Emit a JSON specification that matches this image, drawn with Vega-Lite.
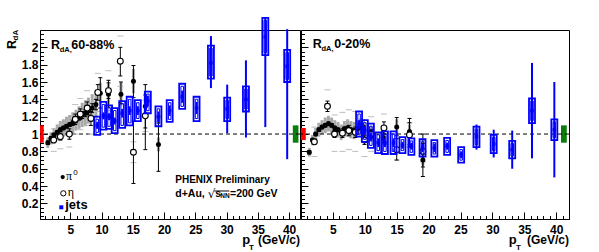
{
"$schema": "https://vega.github.io/schema/vega-lite/v6.json",
"background": "white",
"padding": {"left": 5, "top": 16, "right": 0, "bottom": 0},
"autosize": {"type": "pad"},
"spacing": 1,
"bounds": "flush",
"resolve": {"scale": {"x": "independent", "y": "independent", "color": "independent"}},
"config": {
  "view": {"stroke": "black", "strokeWidth": 1},
  "scale": {"continuousPadding": 0},
  "axis": {"domainColor": "black", "tickColor": "black", "labelColor": "black", "grid": false, "labelFont": "Liberation Sans", "labelFontWeight": "bold", "labelFontSize": 12, "domainWidth": 1, "tickWidth": 1}
},
"datasets": {
  "normL": [{"x0": 0.15, "x1": 0.75, "lo": 0.9, "hi": 1.1, "src": "pi0"}, {"x0": 40.6, "x1": 41.5, "lo": 0.9, "hi": 1.1, "src": "jets"}],
  "normR": [{"x0": 0, "x1": 0.75, "lo": 0.93, "hi": 1.07, "src": "pi0"}, {"x0": 40.75, "x1": 41.65, "lo": 0.9, "hi": 1.1, "src": "jets"}],
  "pi0L": [
    {"pT": 1.4, "v": 0.90, "elo": 0.88, "ehi": 0.92, "slo": 0.84, "shi": 0.96},
    {"pT": 1.9, "v": 0.95, "elo": 0.93, "ehi": 0.97, "slo": 0.88, "shi": 1.02},
    {"pT": 2.4, "v": 0.99, "elo": 0.97, "ehi": 1.01, "slo": 0.91, "shi": 1.07},
    {"pT": 2.9, "v": 1.02, "elo": 1.00, "ehi": 1.04, "slo": 0.93, "shi": 1.11},
    {"pT": 3.4, "v": 1.05, "elo": 1.03, "ehi": 1.07, "slo": 0.95, "shi": 1.15},
    {"pT": 3.9, "v": 1.07, "elo": 1.05, "ehi": 1.09, "slo": 0.97, "shi": 1.17},
    {"pT": 4.4, "v": 1.09, "elo": 1.07, "ehi": 1.11, "slo": 0.98, "shi": 1.20},
    {"pT": 4.9, "v": 1.11, "elo": 1.09, "ehi": 1.13, "slo": 1.00, "shi": 1.22},
    {"pT": 5.4, "v": 1.13, "elo": 1.10, "ehi": 1.16, "slo": 1.01, "shi": 1.25},
    {"pT": 5.9, "v": 1.16, "elo": 1.13, "ehi": 1.19, "slo": 1.04, "shi": 1.28},
    {"pT": 6.4, "v": 1.19, "elo": 1.16, "ehi": 1.22, "slo": 1.06, "shi": 1.32},
    {"pT": 6.9, "v": 1.22, "elo": 1.18, "ehi": 1.26, "slo": 1.08, "shi": 1.36},
    {"pT": 7.4, "v": 1.24, "elo": 1.20, "ehi": 1.28, "slo": 1.09, "shi": 1.39},
    {"pT": 7.9, "v": 1.27, "elo": 1.22, "ehi": 1.32, "slo": 1.12, "shi": 1.42},
    {"pT": 8.5, "v": 1.30, "elo": 1.25, "ehi": 1.35, "slo": 1.14, "shi": 1.46},
    {"pT": 9.1, "v": 1.34, "elo": 1.28, "ehi": 1.40, "slo": 1.18, "shi": 1.50},
    {"pT": 9.8, "v": 1.47, "elo": 1.30, "ehi": 1.65, "slo": 1.35, "shi": 1.59},
    {"pT": 11.1, "v": 1.46, "elo": 1.31, "ehi": 1.62, "slo": 1.34, "shi": 1.58},
    {"pT": 13.1, "v": 1.46, "elo": 1.35, "ehi": 1.60, "slo": 1.33, "shi": 1.59},
    {"pT": 15.1, "v": 1.61, "elo": 1.42, "ehi": 1.79, "slo": 1.47, "shi": 1.75},
    {"pT": 17.0, "v": 1.32, "elo": 1.07, "ehi": 1.57, "slo": 1.20, "shi": 1.44},
    {"pT": 19.1, "v": 0.88, "elo": 0.57, "ehi": 1.20, "slo": 0.80, "shi": 0.96}
  ],
  "etaL": [
    {"pT": 2.35, "v": 0.93, "elo": 0.90, "ehi": 0.96, "slo": 0.80, "shi": 1.06},
    {"pT": 3.4, "v": 0.97, "elo": 0.93, "ehi": 1.01, "slo": 0.83, "shi": 1.11},
    {"pT": 4.85, "v": 1.00, "elo": 0.94, "ehi": 1.06, "slo": 0.85, "shi": 1.15},
    {"pT": 5.8, "v": 1.17, "elo": 1.11, "ehi": 1.23, "slo": 1.00, "shi": 1.34},
    {"pT": 6.6, "v": 1.23, "elo": 1.17, "ehi": 1.29, "slo": 1.05, "shi": 1.41},
    {"pT": 7.7, "v": 1.30, "elo": 1.23, "ehi": 1.37, "slo": 1.10, "shi": 1.50},
    {"pT": 8.3, "v": 1.18, "elo": 1.10, "ehi": 1.26, "slo": 1.00, "shi": 1.36},
    {"pT": 9.4, "v": 1.48, "elo": 1.39, "ehi": 1.57, "slo": 1.26, "shi": 1.70},
    {"pT": 11.1, "v": 1.50, "elo": 1.41, "ehi": 1.59, "slo": 1.27, "shi": 1.73},
    {"pT": 13.0, "v": 1.84, "elo": 1.67, "ehi": 2.00, "slo": 1.55, "shi": 2.13},
    {"pT": 15.1, "v": 0.79, "elo": 0.43, "ehi": 1.15, "slo": 0.67, "shi": 0.91},
    {"pT": 17.0, "v": 1.21, "elo": 0.82, "ehi": 1.45, "slo": 1.03, "shi": 1.39}
  ],
  "jetsL": [
    {"pT": 9.3, "v": 1.10, "slo": 0.99, "shi": 1.20, "elo": 1.06, "ehi": 1.14},
    {"pT": 10.3, "v": 1.21, "slo": 1.05, "shi": 1.37, "elo": 1.17, "ehi": 1.25},
    {"pT": 11.2, "v": 1.20, "slo": 1.06, "shi": 1.33, "elo": 1.16, "ehi": 1.24},
    {"pT": 12.1, "v": 1.15, "slo": 1.01, "shi": 1.30, "elo": 1.11, "ehi": 1.19},
    {"pT": 13.3, "v": 1.24, "slo": 1.07, "shi": 1.38, "elo": 1.19, "ehi": 1.29},
    {"pT": 14.5, "v": 1.27, "slo": 1.10, "shi": 1.43, "elo": 1.22, "ehi": 1.32},
    {"pT": 15.8, "v": 1.27, "slo": 1.15, "shi": 1.39, "elo": 1.22, "ehi": 1.32},
    {"pT": 17.4, "v": 1.38, "slo": 1.24, "shi": 1.49, "elo": 1.32, "ehi": 1.44},
    {"pT": 19.1, "v": 1.20, "slo": 1.09, "shi": 1.32, "elo": 1.14, "ehi": 1.26},
    {"pT": 20.9, "v": 1.27, "slo": 1.14, "shi": 1.39, "elo": 1.21, "ehi": 1.33},
    {"pT": 22.9, "v": 1.43, "slo": 1.29, "shi": 1.58, "elo": 1.36, "ehi": 1.50},
    {"pT": 25.2, "v": 1.30, "slo": 1.15, "shi": 1.43, "elo": 1.23, "ehi": 1.37},
    {"pT": 27.5, "v": 1.82, "slo": 1.64, "shi": 2.02, "elo": 1.53, "ehi": 2.13},
    {"pT": 30.1, "v": 1.29, "slo": 1.15, "shi": 1.42, "elo": 1.01, "ehi": 1.57},
    {"pT": 33.1, "v": 1.40, "slo": 1.26, "shi": 1.55, "elo": 0.96, "ehi": 1.85},
    {"pT": 36.2, "v": 2.12, "slo": 1.91, "shi": 2.34, "elo": 1.08, "ehi": 2.34},
    {"pT": 39.7, "v": 1.78, "slo": 1.60, "shi": 1.97, "elo": 0.71, "ehi": 2.21}
  ],
  "pi0R": [
    {"pT": 1.3, "v": 0.79, "elo": 0.77, "ehi": 0.81, "slo": 0.74, "shi": 0.84},
    {"pT": 1.8, "v": 0.93, "elo": 0.91, "ehi": 0.95, "slo": 0.87, "shi": 0.99},
    {"pT": 2.3, "v": 1.00, "elo": 0.98, "ehi": 1.02, "slo": 0.93, "shi": 1.07},
    {"pT": 2.8, "v": 1.05, "elo": 1.03, "ehi": 1.07, "slo": 0.97, "shi": 1.13},
    {"pT": 3.3, "v": 1.08, "elo": 1.06, "ehi": 1.10, "slo": 1.00, "shi": 1.16},
    {"pT": 3.8, "v": 1.10, "elo": 1.08, "ehi": 1.12, "slo": 1.01, "shi": 1.19},
    {"pT": 4.3, "v": 1.12, "elo": 1.10, "ehi": 1.14, "slo": 1.03, "shi": 1.21},
    {"pT": 4.8, "v": 1.10, "elo": 1.08, "ehi": 1.12, "slo": 1.01, "shi": 1.19},
    {"pT": 5.3, "v": 1.07, "elo": 1.05, "ehi": 1.09, "slo": 0.98, "shi": 1.16},
    {"pT": 5.8, "v": 1.05, "elo": 1.03, "ehi": 1.07, "slo": 0.96, "shi": 1.14},
    {"pT": 6.3, "v": 1.02, "elo": 1.00, "ehi": 1.04, "slo": 0.93, "shi": 1.11},
    {"pT": 6.8, "v": 1.06, "elo": 1.04, "ehi": 1.08, "slo": 0.97, "shi": 1.15},
    {"pT": 7.3, "v": 1.07, "elo": 1.05, "ehi": 1.09, "slo": 0.97, "shi": 1.17},
    {"pT": 7.8, "v": 1.05, "elo": 1.03, "ehi": 1.07, "slo": 0.95, "shi": 1.15},
    {"pT": 8.3, "v": 1.04, "elo": 1.02, "ehi": 1.06, "slo": 0.94, "shi": 1.14},
    {"pT": 8.8, "v": 1.06, "elo": 1.04, "ehi": 1.08, "slo": 0.96, "shi": 1.16},
    {"pT": 9.3, "v": 1.08, "elo": 1.05, "ehi": 1.11, "slo": 0.98, "shi": 1.18},
    {"pT": 9.8, "v": 1.07, "elo": 1.04, "ehi": 1.10, "slo": 0.97, "shi": 1.17},
    {"pT": 11.0, "v": 1.00, "elo": 0.96, "ehi": 1.04, "slo": 0.91, "shi": 1.09},
    {"pT": 12.9, "v": 0.96, "elo": 0.90, "ehi": 1.03, "slo": 0.88, "shi": 1.04},
    {"pT": 15.0, "v": 1.08, "elo": 0.98, "ehi": 1.19, "slo": 0.99, "shi": 1.17},
    {"pT": 17.0, "v": 1.03, "elo": 0.88, "ehi": 1.18, "slo": 0.95, "shi": 1.11},
    {"pT": 19.1, "v": 0.70, "elo": 0.51, "ehi": 0.89, "slo": 0.64, "shi": 0.76}
  ],
  "etaR": [
    {"pT": 2.1, "v": 0.91, "elo": 0.88, "ehi": 0.94, "slo": 0.74, "shi": 1.08},
    {"pT": 4.15, "v": 1.32, "elo": 1.26, "ehi": 1.38, "slo": 1.14, "shi": 1.51},
    {"pT": 5.25, "v": 1.00, "elo": 0.96, "ehi": 1.04, "slo": 0.80, "shi": 1.22},
    {"pT": 6.5, "v": 1.01, "elo": 0.96, "ehi": 1.06, "slo": 0.80, "shi": 1.25},
    {"pT": 7.5, "v": 1.04, "elo": 0.98, "ehi": 1.10, "slo": 0.82, "shi": 1.28},
    {"pT": 8.5, "v": 1.02, "elo": 0.96, "ehi": 1.08, "slo": 0.80, "shi": 1.26},
    {"pT": 9.95, "v": 0.93, "elo": 0.88, "ehi": 0.98, "slo": 0.74, "shi": 1.12},
    {"pT": 11.0, "v": 1.00, "elo": 0.95, "ehi": 1.05, "slo": 0.80, "shi": 1.20},
    {"pT": 13.0, "v": 1.07, "elo": 1.00, "ehi": 1.14, "slo": 0.88, "shi": 1.23},
    {"pT": 15.0, "v": 0.82, "elo": 0.70, "ehi": 0.95, "slo": 0.70, "shi": 0.94},
    {"pT": 17.0, "v": 0.99, "elo": 0.85, "ehi": 1.13, "slo": 0.85, "shi": 1.13},
    {"pT": 19.1, "v": 0.80, "elo": 0.62, "ehi": 1.00, "slo": 0.68, "shi": 0.92}
  ],
  "jetsR": [
    {"pT": 9.1, "v": 1.11, "slo": 0.97, "shi": 1.26, "elo": 1.06, "ehi": 1.16},
    {"pT": 10.0, "v": 1.04, "slo": 0.91, "shi": 1.16, "elo": 0.99, "ehi": 1.09},
    {"pT": 10.95, "v": 0.97, "slo": 0.84, "shi": 1.12, "elo": 0.92, "ehi": 1.02},
    {"pT": 12.1, "v": 0.90, "slo": 0.78, "shi": 1.02, "elo": 0.85, "ehi": 0.95},
    {"pT": 13.15, "v": 0.90, "slo": 0.77, "shi": 1.03, "elo": 0.85, "ehi": 0.95},
    {"pT": 14.5, "v": 0.90, "slo": 0.77, "shi": 1.03, "elo": 0.85, "ehi": 0.95},
    {"pT": 15.9, "v": 0.87, "slo": 0.78, "shi": 0.965, "elo": 0.83, "ehi": 0.91},
    {"pT": 17.3, "v": 0.86, "slo": 0.76, "shi": 0.95, "elo": 0.82, "ehi": 0.90},
    {"pT": 19.05, "v": 0.84, "slo": 0.74, "shi": 0.94, "elo": 0.79, "ehi": 0.89},
    {"pT": 20.9, "v": 0.84, "slo": 0.74, "shi": 0.93, "elo": 0.79, "ehi": 0.89},
    {"pT": 22.9, "v": 0.86, "slo": 0.76, "shi": 0.955, "elo": 0.82, "ehi": 0.90},
    {"pT": 25.1, "v": 0.76, "slo": 0.67, "shi": 0.85, "elo": 0.72, "ehi": 0.80},
    {"pT": 27.5, "v": 0.97, "slo": 0.85, "shi": 1.085, "elo": 0.82, "ehi": 1.11},
    {"pT": 30.2, "v": 0.885, "slo": 0.78, "shi": 0.99, "elo": 0.73, "ehi": 1.05},
    {"pT": 33.1, "v": 0.82, "slo": 0.72, "shi": 0.92, "elo": 0.60, "ehi": 1.04},
    {"pT": 36.2, "v": 1.27, "slo": 1.125, "shi": 1.41, "elo": 0.72, "ehi": 1.82},
    {"pT": 39.7, "v": 1.05, "slo": 0.93, "shi": 1.17, "elo": 0.50, "ehi": 1.60}
  ]
},
"hconcat": [
{
  "width": 260, "height": 189,
  "resolve": {"axis": {"x": "independent", "y": "independent"}},
  "layer": [
    {"data": {"name": "normL"}, "mark": {"type": "rect"},
     "encoding": {
       "x": {"field": "x0", "type": "quantitative", "scale": {"domain": [0.15, 41.75], "nice": false, "zero": false, "padding": 0},
             "axis": {"orient": "bottom", "values": [5, 10, 15, 20, 25, 30, 35, 40], "tickSize": -7, "labelPadding": 12, "labelFlush": false, "labelOverlap": false, "title": null}},
       "x2": {"field": "x1"},
       "y": {"field": "lo", "type": "quantitative", "scale": {"domain": [0.02, 2.2], "nice": false, "zero": false, "padding": 0},
             "axis": {"orient": "left", "values": [0.2, 0.4, 0.6, 0.8, 1, 1.2, 1.4, 1.6, 1.8, 2], "format": "~g", "labelExpr": "(datum.value == 1 || datum.value == 2) ? datum.label : datum.label + '\u2007'", "tickSize": -7, "labelPadding": 9, "labelFlush": false, "labelOverlap": false, "title": null}},
       "y2": {"field": "hi"},
       "color": {"field": "src", "type": "nominal", "scale": {"domain": ["pi0", "jets"], "range": ["#ff0000", "#0b7d0b"]}, "legend": null}
     }},
    {"data": {"name": "pi0L"}, "mark": {"type": "bar", "width": 3, "color": "#a9a9a9"},
     "encoding": {
       "x": {"field": "pT", "type": "quantitative", "scale": {"domain": [0.15, 41.75], "nice": false, "zero": false, "padding": 0},
             "axis": {"orient": "bottom", "values": [1,2,3,4,5,6,7,8,9,10,11,12,13,14,15,16,17,18,19,20,21,22,23,24,25,26,27,28,29,30,31,32,33,34,35,36,37,38,39,40,41], "tickSize": -3.5, "labels": false, "domain": false, "title": null}},
       "y": {"field": "slo", "type": "quantitative", "scale": {"domain": [0.02, 2.2], "nice": false, "zero": false, "padding": 0},
             "axis": {"orient": "left", "values": [0.05,0.1,0.15,0.2,0.25,0.3,0.35,0.4,0.45,0.5,0.55,0.6,0.65,0.7,0.75,0.8,0.85,0.9,0.95,1,1.05,1.1,1.15,1.2,1.25,1.3,1.35,1.4,1.45,1.5,1.55,1.6,1.65,1.7,1.75,1.8,1.85,1.9,1.95,2,2.05,2.1,2.15], "tickSize": -3.5, "labels": false, "domain": false, "title": null}},
       "y2": {"field": "shi"}
     }},
    {"data": {"values": [{}]}, "mark": {"type": "rule", "strokeDash": [4, 3], "color": "black", "strokeWidth": 1},
     "encoding": {"y": {"datum": 1, "type": "quantitative", "scale": {"domain": [0.02, 2.2], "nice": false, "zero": false, "padding": 0}, "axis": null}}},
    {"data": {"name": "etaL"}, "mark": {"type": "tick", "orient": "horizontal", "size": 6, "thickness": 1, "color": "#bdbdbd", "opacity": 1},
     "encoding": {"x": {"field": "pT", "type": "quantitative", "scale": {"domain": [0.15, 41.75], "nice": false, "zero": false, "padding": 0}, "axis": null},
                  "y": {"field": "slo", "type": "quantitative", "scale": {"domain": [0.02, 2.2], "nice": false, "zero": false, "padding": 0}, "axis": null}}},
    {"data": {"name": "etaL"}, "mark": {"type": "tick", "orient": "horizontal", "size": 6, "thickness": 1, "color": "#bdbdbd", "opacity": 1},
     "encoding": {"x": {"field": "pT", "type": "quantitative", "scale": {"domain": [0.15, 41.75], "nice": false, "zero": false, "padding": 0}, "axis": null},
                  "y": {"field": "shi", "type": "quantitative", "scale": {"domain": [0.02, 2.2], "nice": false, "zero": false, "padding": 0}, "axis": null}}},
    {"data": {"name": "pi0L"}, "mark": {"type": "rule", "color": "black", "strokeWidth": 1},
     "encoding": {"x": {"field": "pT", "type": "quantitative", "scale": {"domain": [0.15, 41.75], "nice": false, "zero": false, "padding": 0}, "axis": null},
                  "y": {"field": "elo", "type": "quantitative", "scale": {"domain": [0.02, 2.2], "nice": false, "zero": false, "padding": 0}, "axis": null},
                  "y2": {"field": "ehi"}}},
    {"data": {"name": "etaL"}, "mark": {"type": "rule", "color": "black", "strokeWidth": 1},
     "encoding": {"x": {"field": "pT", "type": "quantitative", "scale": {"domain": [0.15, 41.75], "nice": false, "zero": false, "padding": 0}, "axis": null},
                  "y": {"field": "elo", "type": "quantitative", "scale": {"domain": [0.02, 2.2], "nice": false, "zero": false, "padding": 0}, "axis": null},
                  "y2": {"field": "ehi"}}},
    {"data": {"name": "pi0L"}, "mark": {"type": "tick", "orient": "horizontal", "size": 4, "thickness": 1, "color": "black", "opacity": 1},
     "encoding": {"x": {"field": "pT", "type": "quantitative", "scale": {"domain": [0.15, 41.75], "nice": false, "zero": false, "padding": 0}, "axis": null},
                  "y": {"field": "elo", "type": "quantitative", "scale": {"domain": [0.02, 2.2], "nice": false, "zero": false, "padding": 0}, "axis": null}}},
    {"data": {"name": "pi0L"}, "mark": {"type": "tick", "orient": "horizontal", "size": 4, "thickness": 1, "color": "black", "opacity": 1},
     "encoding": {"x": {"field": "pT", "type": "quantitative", "scale": {"domain": [0.15, 41.75], "nice": false, "zero": false, "padding": 0}, "axis": null},
                  "y": {"field": "ehi", "type": "quantitative", "scale": {"domain": [0.02, 2.2], "nice": false, "zero": false, "padding": 0}, "axis": null}}},
    {"data": {"name": "etaL"}, "mark": {"type": "tick", "orient": "horizontal", "size": 4, "thickness": 1, "color": "black", "opacity": 1},
     "encoding": {"x": {"field": "pT", "type": "quantitative", "scale": {"domain": [0.15, 41.75], "nice": false, "zero": false, "padding": 0}, "axis": null},
                  "y": {"field": "elo", "type": "quantitative", "scale": {"domain": [0.02, 2.2], "nice": false, "zero": false, "padding": 0}, "axis": null}}},
    {"data": {"name": "etaL"}, "mark": {"type": "tick", "orient": "horizontal", "size": 4, "thickness": 1, "color": "black", "opacity": 1},
     "encoding": {"x": {"field": "pT", "type": "quantitative", "scale": {"domain": [0.15, 41.75], "nice": false, "zero": false, "padding": 0}, "axis": null},
                  "y": {"field": "ehi", "type": "quantitative", "scale": {"domain": [0.02, 2.2], "nice": false, "zero": false, "padding": 0}, "axis": null}}},
    {"data": {"name": "pi0L"}, "mark": {"type": "point", "shape": "circle", "filled": true, "color": "black", "size": 25, "opacity": 1},
     "encoding": {"x": {"field": "pT", "type": "quantitative", "scale": {"domain": [0.15, 41.75], "nice": false, "zero": false, "padding": 0}, "axis": null},
                  "y": {"field": "v", "type": "quantitative", "scale": {"domain": [0.02, 2.2], "nice": false, "zero": false, "padding": 0}, "axis": null}}},
    {"data": {"name": "etaL"}, "mark": {"type": "point", "shape": "circle", "filled": true, "fill": "white", "stroke": "black", "strokeWidth": 1.1, "size": 34, "opacity": 1},
     "encoding": {"x": {"field": "pT", "type": "quantitative", "scale": {"domain": [0.15, 41.75], "nice": false, "zero": false, "padding": 0}, "axis": null},
                  "y": {"field": "v", "type": "quantitative", "scale": {"domain": [0.02, 2.2], "nice": false, "zero": false, "padding": 0}, "axis": null}}},
    {"data": {"name": "jetsL"}, "mark": {"type": "bar", "width": 6, "fill": "white", "fillOpacity": 0, "stroke": "#0000ff", "strokeWidth": 1.8},
     "encoding": {"x": {"field": "pT", "type": "quantitative", "scale": {"domain": [0.15, 41.75], "nice": false, "zero": false, "padding": 0}, "axis": null},
                  "y": {"field": "slo", "type": "quantitative", "scale": {"domain": [0.02, 2.2], "nice": false, "zero": false, "padding": 0}, "axis": null},
                  "y2": {"field": "shi"}}},
    {"data": {"name": "jetsL"}, "mark": {"type": "bar", "width": 2.5, "fill": "white", "fillOpacity": 0, "stroke": "#0000ff", "strokeWidth": 1, "yOffset": -2.5, "y2Offset": 2.5},
     "encoding": {"x": {"field": "pT", "type": "quantitative", "scale": {"domain": [0.15, 41.75], "nice": false, "zero": false, "padding": 0}, "axis": null},
                  "y": {"field": "slo", "type": "quantitative", "scale": {"domain": [0.02, 2.2], "nice": false, "zero": false, "padding": 0}, "axis": null},
                  "y2": {"field": "shi"}}},
    {"data": {"name": "jetsL"}, "mark": {"type": "rule", "color": "#0000ff", "strokeWidth": 2},
     "encoding": {"x": {"field": "pT", "type": "quantitative", "scale": {"domain": [0.15, 41.75], "nice": false, "zero": false, "padding": 0}, "axis": null},
                  "y": {"field": "elo", "type": "quantitative", "scale": {"domain": [0.02, 2.2], "nice": false, "zero": false, "padding": 0}, "axis": null},
                  "y2": {"field": "ehi"}}},
    {"data": {"name": "jetsL"}, "mark": {"type": "point", "shape": "square", "filled": true, "color": "#0000ff", "size": 12, "opacity": 1},
     "encoding": {"x": {"field": "pT", "type": "quantitative", "scale": {"domain": [0.15, 41.75], "nice": false, "zero": false, "padding": 0}, "axis": null},
                  "y": {"field": "v", "type": "quantitative", "scale": {"domain": [0.02, 2.2], "nice": false, "zero": false, "padding": 0}, "axis": null}}},
    {"data": {"values": [{}]}, "mark": {"type": "text", "text": "R", "font": "Liberation Sans", "fontWeight": "bold", "fontSize": 12.5, "align": "left", "baseline": "alphabetic", "color": "black"},
     "encoding": {"x": {"datum": 1.91, "type": "quantitative", "scale": {"domain": [0.15, 41.75], "nice": false, "zero": false, "padding": 0}, "axis": null},
                  "y": {"datum": 1.981, "type": "quantitative", "scale": {"domain": [0.02, 2.2], "nice": false, "zero": false, "padding": 0}, "axis": null}}},
    {"data": {"values": [{}]}, "mark": {"type": "text", "text": "dA,", "font": "Liberation Sans", "fontWeight": "bold", "fontSize": 7.5, "align": "left", "baseline": "alphabetic", "color": "black"},
     "encoding": {"x": {"datum": 3.3, "type": "quantitative", "scale": {"domain": [0.15, 41.75], "nice": false, "zero": false, "padding": 0}, "axis": null},
                  "y": {"datum": 1.946, "type": "quantitative", "scale": {"domain": [0.02, 2.2], "nice": false, "zero": false, "padding": 0}, "axis": null}}},
    {"data": {"values": [{}]}, "mark": {"type": "text", "text": "60-88%", "font": "Liberation Sans", "fontWeight": "bold", "fontSize": 12.5, "align": "left", "baseline": "alphabetic", "color": "black"},
     "encoding": {"x": {"datum": 5.15, "type": "quantitative", "scale": {"domain": [0.15, 41.75], "nice": false, "zero": false, "padding": 0}, "axis": null},
                  "y": {"datum": 1.981, "type": "quantitative", "scale": {"domain": [0.02, 2.2], "nice": false, "zero": false, "padding": 0}, "axis": null}}},
    {"data": {"values": [{}]}, "mark": {"type": "text", "text": "R", "font": "Liberation Sans", "fontWeight": "bold", "fontSize": 12.5, "align": "left", "baseline": "alphabetic", "angle": 270, "color": "black"},
     "encoding": {"x": {"datum": -3.69, "type": "quantitative", "scale": {"domain": [0.15, 41.75], "nice": false, "zero": false, "padding": 0}, "axis": null},
                  "y": {"datum": 1.981, "type": "quantitative", "scale": {"domain": [0.02, 2.2], "nice": false, "zero": false, "padding": 0}, "axis": null}}},
    {"data": {"values": [{}]}, "mark": {"type": "text", "text": "dA", "font": "Liberation Sans", "fontWeight": "bold", "fontSize": 8, "align": "left", "baseline": "alphabetic", "angle": 270, "color": "black"},
     "encoding": {"x": {"datum": -3.37, "type": "quantitative", "scale": {"domain": [0.15, 41.75], "nice": false, "zero": false, "padding": 0}, "axis": null},
                  "y": {"datum": 2.079, "type": "quantitative", "scale": {"domain": [0.02, 2.2], "nice": false, "zero": false, "padding": 0}, "axis": null}}},
    {"data": {"values": [{}]}, "mark": {"type": "text", "text": "p", "font": "Liberation Sans", "fontWeight": "bold", "fontSize": 13, "align": "left", "baseline": "alphabetic", "color": "black"},
     "encoding": {"x": {"datum": 32.5, "type": "quantitative", "scale": {"domain": [0.15, 41.75], "nice": false, "zero": false, "padding": 0}, "axis": null},
                  "y": {"datum": -0.268, "type": "quantitative", "scale": {"domain": [0.02, 2.2], "nice": false, "zero": false, "padding": 0}, "axis": null}}},
    {"data": {"values": [{}]}, "mark": {"type": "text", "text": "T", "font": "Liberation Sans", "fontWeight": "bold", "fontSize": 8, "align": "left", "baseline": "alphabetic", "color": "black"},
     "encoding": {"x": {"datum": 33.6, "type": "quantitative", "scale": {"domain": [0.15, 41.75], "nice": false, "zero": false, "padding": 0}, "axis": null},
                  "y": {"datum": -0.332, "type": "quantitative", "scale": {"domain": [0.02, 2.2], "nice": false, "zero": false, "padding": 0}, "axis": null}}},
    {"data": {"values": [{}]}, "mark": {"type": "text", "text": "(GeV/c)", "font": "Liberation Sans", "fontWeight": "bold", "fontSize": 12, "align": "right", "baseline": "alphabetic", "color": "black"},
     "encoding": {"x": {"datum": 41.75, "type": "quantitative", "scale": {"domain": [0.15, 41.75], "nice": false, "zero": false, "padding": 0}, "axis": null},
                  "y": {"datum": -0.268, "type": "quantitative", "scale": {"domain": [0.02, 2.2], "nice": false, "zero": false, "padding": 0}, "axis": null}}},
    {"data": {"values": [{}]}, "mark": {"type": "point", "shape": "circle", "filled": true, "color": "black", "size": 18, "opacity": 1},
     "encoding": {"x": {"datum": 3.78, "type": "quantitative", "scale": {"domain": [0.15, 41.75], "nice": false, "zero": false, "padding": 0}, "axis": null},
                  "y": {"datum": 0.504, "type": "quantitative", "scale": {"domain": [0.02, 2.2], "nice": false, "zero": false, "padding": 0}, "axis": null}}},
    {"data": {"values": [{}]}, "mark": {"type": "text", "text": "π", "font": "Liberation Serif", "fontSize": 12, "align": "left", "baseline": "alphabetic", "color": "black"},
     "encoding": {"x": {"datum": 4.31, "type": "quantitative", "scale": {"domain": [0.15, 41.75], "nice": false, "zero": false, "padding": 0}, "axis": null},
                  "y": {"datum": 0.466, "type": "quantitative", "scale": {"domain": [0.02, 2.2], "nice": false, "zero": false, "padding": 0}, "axis": null}}},
    {"data": {"values": [{}]}, "mark": {"type": "text", "text": "0", "font": "Liberation Sans", "fontSize": 8, "align": "left", "baseline": "alphabetic", "color": "black"},
     "encoding": {"x": {"datum": 5.48, "type": "quantitative", "scale": {"domain": [0.15, 41.75], "nice": false, "zero": false, "padding": 0}, "axis": null},
                  "y": {"datum": 0.522, "type": "quantitative", "scale": {"domain": [0.02, 2.2], "nice": false, "zero": false, "padding": 0}, "axis": null}}},
    {"data": {"values": [{}]}, "mark": {"type": "point", "shape": "circle", "filled": true, "fill": "white", "stroke": "black", "strokeWidth": 1, "size": 28, "opacity": 1},
     "encoding": {"x": {"datum": 3.88, "type": "quantitative", "scale": {"domain": [0.15, 41.75], "nice": false, "zero": false, "padding": 0}, "axis": null},
                  "y": {"datum": 0.316, "type": "quantitative", "scale": {"domain": [0.02, 2.2], "nice": false, "zero": false, "padding": 0}, "axis": null}}},
    {"data": {"values": [{}]}, "mark": {"type": "text", "text": "η", "font": "Liberation Serif", "fontSize": 12, "align": "left", "baseline": "alphabetic", "color": "black"},
     "encoding": {"x": {"datum": 4.58, "type": "quantitative", "scale": {"domain": [0.15, 41.75], "nice": false, "zero": false, "padding": 0}, "axis": null},
                  "y": {"datum": 0.285, "type": "quantitative", "scale": {"domain": [0.02, 2.2], "nice": false, "zero": false, "padding": 0}, "axis": null}}},
    {"data": {"values": [{}]}, "mark": {"type": "point", "shape": "square", "filled": true, "color": "#0000ff", "size": 16, "opacity": 1},
     "encoding": {"x": {"datum": 3.56, "type": "quantitative", "scale": {"domain": [0.15, 41.75], "nice": false, "zero": false, "padding": 0}, "axis": null},
                  "y": {"datum": 0.155, "type": "quantitative", "scale": {"domain": [0.02, 2.2], "nice": false, "zero": false, "padding": 0}, "axis": null}}},
    {"data": {"values": [{}]}, "mark": {"type": "text", "text": "jets", "font": "Liberation Sans", "fontWeight": "bold", "fontSize": 13, "align": "left", "baseline": "alphabetic", "color": "black"},
     "encoding": {"x": {"datum": 4.19, "type": "quantitative", "scale": {"domain": [0.15, 41.75], "nice": false, "zero": false, "padding": 0}, "axis": null},
                  "y": {"datum": 0.13, "type": "quantitative", "scale": {"domain": [0.02, 2.2], "nice": false, "zero": false, "padding": 0}, "axis": null}}},
    {"data": {"values": [{}]}, "mark": {"type": "text", "text": "PHENIX Preliminary", "font": "Liberation Sans", "fontWeight": "bold", "fontSize": 10, "align": "left", "baseline": "alphabetic", "color": "black"},
     "encoding": {"x": {"datum": 21.8, "type": "quantitative", "scale": {"domain": [0.15, 41.75], "nice": false, "zero": false, "padding": 0}, "axis": null},
                  "y": {"datum": 0.439, "type": "quantitative", "scale": {"domain": [0.02, 2.2], "nice": false, "zero": false, "padding": 0}, "axis": null}}},
    {"data": {"values": [{}]}, "mark": {"type": "text", "text": "d+Au,", "font": "Liberation Sans", "fontWeight": "bold", "fontSize": 10.5, "align": "left", "baseline": "alphabetic", "color": "black"},
     "encoding": {"x": {"datum": 21.8, "type": "quantitative", "scale": {"domain": [0.15, 41.75], "nice": false, "zero": false, "padding": 0}, "axis": null},
                  "y": {"datum": 0.274, "type": "quantitative", "scale": {"domain": [0.02, 2.2], "nice": false, "zero": false, "padding": 0}, "axis": null}}},
    {"data": {"values": [{}]}, "mark": {"type": "text", "text": "√", "font": "DejaVu Sans", "fontSize": 12, "align": "left", "baseline": "alphabetic", "color": "black"},
     "encoding": {"x": {"datum": 27.0, "type": "quantitative", "scale": {"domain": [0.15, 41.75], "nice": false, "zero": false, "padding": 0}, "axis": null},
                  "y": {"datum": 0.262, "type": "quantitative", "scale": {"domain": [0.02, 2.2], "nice": false, "zero": false, "padding": 0}, "axis": null}}},
    {"data": {"values": [{}]}, "mark": {"type": "text", "text": "s", "font": "Liberation Sans", "fontWeight": "bold", "fontSize": 10.5, "align": "left", "baseline": "alphabetic", "color": "black"},
     "encoding": {"x": {"datum": 28.2, "type": "quantitative", "scale": {"domain": [0.15, 41.75], "nice": false, "zero": false, "padding": 0}, "axis": null},
                  "y": {"datum": 0.274, "type": "quantitative", "scale": {"domain": [0.02, 2.2], "nice": false, "zero": false, "padding": 0}, "axis": null}}},
    {"data": {"values": [{}]}, "mark": {"type": "rule", "color": "black", "strokeWidth": 1},
     "encoding": {"x": {"datum": 28.04, "type": "quantitative", "scale": {"domain": [0.15, 41.75], "nice": false, "zero": false, "padding": 0}, "axis": null},
                  "x2": {"datum": 30.44},
                  "y": {"datum": 0.343, "type": "quantitative", "scale": {"domain": [0.02, 2.2], "nice": false, "zero": false, "padding": 0}, "axis": null}}},
    {"data": {"values": [{}]}, "mark": {"type": "text", "text": "NN", "font": "Liberation Sans", "fontWeight": "bold", "fontSize": 6.5, "align": "left", "baseline": "alphabetic", "color": "black"},
     "encoding": {"x": {"datum": 29.0, "type": "quantitative", "scale": {"domain": [0.15, 41.75], "nice": false, "zero": false, "padding": 0}, "axis": null},
                  "y": {"datum": 0.257, "type": "quantitative", "scale": {"domain": [0.02, 2.2], "nice": false, "zero": false, "padding": 0}, "axis": null}}},
    {"data": {"values": [{}]}, "mark": {"type": "text", "text": "=200 GeV", "font": "Liberation Sans", "fontWeight": "bold", "fontSize": 10.5, "align": "left", "baseline": "alphabetic", "color": "black"},
     "encoding": {"x": {"datum": 30.55, "type": "quantitative", "scale": {"domain": [0.15, 41.75], "nice": false, "zero": false, "padding": 0}, "axis": null},
                  "y": {"datum": 0.274, "type": "quantitative", "scale": {"domain": [0.02, 2.2], "nice": false, "zero": false, "padding": 0}, "axis": null}}}
  ]
},
{
  "width": 268, "height": 189,
  "resolve": {"axis": {"x": "independent", "y": "independent"}},
  "layer": [
    {"data": {"name": "normR"}, "mark": {"type": "rect"},
     "encoding": {
       "x": {"field": "x0", "type": "quantitative", "scale": {"domain": [0, 42], "nice": false, "zero": false, "padding": 0},
             "axis": {"orient": "bottom", "values": [5, 10, 15, 20, 25, 30, 35, 40], "tickSize": -7, "labelPadding": 12, "labelFlush": false, "labelOverlap": false, "title": null}},
       "x2": {"field": "x1"},
       "y": {"field": "lo", "type": "quantitative", "scale": {"domain": [0.02, 2.2], "nice": false, "zero": false, "padding": 0},
             "axis": {"orient": "left", "values": [0.2, 0.4, 0.6, 0.8, 1, 1.2, 1.4, 1.6, 1.8, 2], "tickSize": -7, "labels": false, "title": null}},
       "y2": {"field": "hi"},
       "color": {"field": "src", "type": "nominal", "scale": {"domain": ["pi0", "jets"], "range": ["#ff0000", "#0b7d0b"]}, "legend": null}
     }},
    {"data": {"name": "pi0R"}, "mark": {"type": "bar", "width": 3, "color": "#a9a9a9"},
     "encoding": {
       "x": {"field": "pT", "type": "quantitative", "scale": {"domain": [0, 42], "nice": false, "zero": false, "padding": 0},
             "axis": {"orient": "bottom", "values": [1,2,3,4,5,6,7,8,9,10,11,12,13,14,15,16,17,18,19,20,21,22,23,24,25,26,27,28,29,30,31,32,33,34,35,36,37,38,39,40,41], "tickSize": -3.5, "labels": false, "domain": false, "title": null}},
       "y": {"field": "slo", "type": "quantitative", "scale": {"domain": [0.02, 2.2], "nice": false, "zero": false, "padding": 0},
             "axis": {"orient": "left", "values": [0.05,0.1,0.15,0.2,0.25,0.3,0.35,0.4,0.45,0.5,0.55,0.6,0.65,0.7,0.75,0.8,0.85,0.9,0.95,1,1.05,1.1,1.15,1.2,1.25,1.3,1.35,1.4,1.45,1.5,1.55,1.6,1.65,1.7,1.75,1.8,1.85,1.9,1.95,2,2.05,2.1,2.15], "tickSize": -3.5, "labels": false, "domain": false, "title": null}},
       "y2": {"field": "shi"}
     }},
    {"data": {"values": [{}]}, "mark": {"type": "rule", "strokeDash": [4, 3], "color": "black", "strokeWidth": 1},
     "encoding": {"y": {"datum": 1, "type": "quantitative", "scale": {"domain": [0.02, 2.2], "nice": false, "zero": false, "padding": 0}, "axis": null}}},
    {"data": {"name": "etaR"}, "mark": {"type": "tick", "orient": "horizontal", "size": 6, "thickness": 1, "color": "#bdbdbd", "opacity": 1},
     "encoding": {"x": {"field": "pT", "type": "quantitative", "scale": {"domain": [0, 42], "nice": false, "zero": false, "padding": 0}, "axis": null},
                  "y": {"field": "slo", "type": "quantitative", "scale": {"domain": [0.02, 2.2], "nice": false, "zero": false, "padding": 0}, "axis": null}}},
    {"data": {"name": "etaR"}, "mark": {"type": "tick", "orient": "horizontal", "size": 6, "thickness": 1, "color": "#bdbdbd", "opacity": 1},
     "encoding": {"x": {"field": "pT", "type": "quantitative", "scale": {"domain": [0, 42], "nice": false, "zero": false, "padding": 0}, "axis": null},
                  "y": {"field": "shi", "type": "quantitative", "scale": {"domain": [0.02, 2.2], "nice": false, "zero": false, "padding": 0}, "axis": null}}},
    {"data": {"name": "pi0R"}, "mark": {"type": "rule", "color": "black", "strokeWidth": 1},
     "encoding": {"x": {"field": "pT", "type": "quantitative", "scale": {"domain": [0, 42], "nice": false, "zero": false, "padding": 0}, "axis": null},
                  "y": {"field": "elo", "type": "quantitative", "scale": {"domain": [0.02, 2.2], "nice": false, "zero": false, "padding": 0}, "axis": null},
                  "y2": {"field": "ehi"}}},
    {"data": {"name": "etaR"}, "mark": {"type": "rule", "color": "black", "strokeWidth": 1},
     "encoding": {"x": {"field": "pT", "type": "quantitative", "scale": {"domain": [0, 42], "nice": false, "zero": false, "padding": 0}, "axis": null},
                  "y": {"field": "elo", "type": "quantitative", "scale": {"domain": [0.02, 2.2], "nice": false, "zero": false, "padding": 0}, "axis": null},
                  "y2": {"field": "ehi"}}},
    {"data": {"name": "pi0R"}, "mark": {"type": "tick", "orient": "horizontal", "size": 4, "thickness": 1, "color": "black", "opacity": 1},
     "encoding": {"x": {"field": "pT", "type": "quantitative", "scale": {"domain": [0, 42], "nice": false, "zero": false, "padding": 0}, "axis": null},
                  "y": {"field": "elo", "type": "quantitative", "scale": {"domain": [0.02, 2.2], "nice": false, "zero": false, "padding": 0}, "axis": null}}},
    {"data": {"name": "pi0R"}, "mark": {"type": "tick", "orient": "horizontal", "size": 4, "thickness": 1, "color": "black", "opacity": 1},
     "encoding": {"x": {"field": "pT", "type": "quantitative", "scale": {"domain": [0, 42], "nice": false, "zero": false, "padding": 0}, "axis": null},
                  "y": {"field": "ehi", "type": "quantitative", "scale": {"domain": [0.02, 2.2], "nice": false, "zero": false, "padding": 0}, "axis": null}}},
    {"data": {"name": "etaR"}, "mark": {"type": "tick", "orient": "horizontal", "size": 4, "thickness": 1, "color": "black", "opacity": 1},
     "encoding": {"x": {"field": "pT", "type": "quantitative", "scale": {"domain": [0, 42], "nice": false, "zero": false, "padding": 0}, "axis": null},
                  "y": {"field": "elo", "type": "quantitative", "scale": {"domain": [0.02, 2.2], "nice": false, "zero": false, "padding": 0}, "axis": null}}},
    {"data": {"name": "etaR"}, "mark": {"type": "tick", "orient": "horizontal", "size": 4, "thickness": 1, "color": "black", "opacity": 1},
     "encoding": {"x": {"field": "pT", "type": "quantitative", "scale": {"domain": [0, 42], "nice": false, "zero": false, "padding": 0}, "axis": null},
                  "y": {"field": "ehi", "type": "quantitative", "scale": {"domain": [0.02, 2.2], "nice": false, "zero": false, "padding": 0}, "axis": null}}},
    {"data": {"name": "pi0R"}, "mark": {"type": "point", "shape": "circle", "filled": true, "color": "black", "size": 25, "opacity": 1},
     "encoding": {"x": {"field": "pT", "type": "quantitative", "scale": {"domain": [0, 42], "nice": false, "zero": false, "padding": 0}, "axis": null},
                  "y": {"field": "v", "type": "quantitative", "scale": {"domain": [0.02, 2.2], "nice": false, "zero": false, "padding": 0}, "axis": null}}},
    {"data": {"name": "etaR"}, "mark": {"type": "point", "shape": "circle", "filled": true, "fill": "white", "stroke": "black", "strokeWidth": 1.1, "size": 34, "opacity": 1},
     "encoding": {"x": {"field": "pT", "type": "quantitative", "scale": {"domain": [0, 42], "nice": false, "zero": false, "padding": 0}, "axis": null},
                  "y": {"field": "v", "type": "quantitative", "scale": {"domain": [0.02, 2.2], "nice": false, "zero": false, "padding": 0}, "axis": null}}},
    {"data": {"name": "jetsR"}, "mark": {"type": "bar", "width": 6, "fill": "white", "fillOpacity": 0, "stroke": "#0000ff", "strokeWidth": 1.8},
     "encoding": {"x": {"field": "pT", "type": "quantitative", "scale": {"domain": [0, 42], "nice": false, "zero": false, "padding": 0}, "axis": null},
                  "y": {"field": "slo", "type": "quantitative", "scale": {"domain": [0.02, 2.2], "nice": false, "zero": false, "padding": 0}, "axis": null},
                  "y2": {"field": "shi"}}},
    {"data": {"name": "jetsR"}, "mark": {"type": "bar", "width": 2.5, "fill": "white", "fillOpacity": 0, "stroke": "#0000ff", "strokeWidth": 1, "yOffset": -2.5, "y2Offset": 2.5},
     "encoding": {"x": {"field": "pT", "type": "quantitative", "scale": {"domain": [0, 42], "nice": false, "zero": false, "padding": 0}, "axis": null},
                  "y": {"field": "slo", "type": "quantitative", "scale": {"domain": [0.02, 2.2], "nice": false, "zero": false, "padding": 0}, "axis": null},
                  "y2": {"field": "shi"}}},
    {"data": {"name": "jetsR"}, "mark": {"type": "rule", "color": "#0000ff", "strokeWidth": 2},
     "encoding": {"x": {"field": "pT", "type": "quantitative", "scale": {"domain": [0, 42], "nice": false, "zero": false, "padding": 0}, "axis": null},
                  "y": {"field": "elo", "type": "quantitative", "scale": {"domain": [0.02, 2.2], "nice": false, "zero": false, "padding": 0}, "axis": null},
                  "y2": {"field": "ehi"}}},
    {"data": {"name": "jetsR"}, "mark": {"type": "point", "shape": "square", "filled": true, "color": "#0000ff", "size": 12, "opacity": 1},
     "encoding": {"x": {"field": "pT", "type": "quantitative", "scale": {"domain": [0, 42], "nice": false, "zero": false, "padding": 0}, "axis": null},
                  "y": {"field": "v", "type": "quantitative", "scale": {"domain": [0.02, 2.2], "nice": false, "zero": false, "padding": 0}, "axis": null}}},
    {"data": {"values": [{}]}, "mark": {"type": "text", "text": "R", "font": "Liberation Sans", "fontWeight": "bold", "fontSize": 12.5, "align": "left", "baseline": "alphabetic", "color": "black"},
     "encoding": {"x": {"datum": 1.83, "type": "quantitative", "scale": {"domain": [0, 42], "nice": false, "zero": false, "padding": 0}, "axis": null},
                  "y": {"datum": 1.99, "type": "quantitative", "scale": {"domain": [0.02, 2.2], "nice": false, "zero": false, "padding": 0}, "axis": null}}},
    {"data": {"values": [{}]}, "mark": {"type": "text", "text": "dA,", "font": "Liberation Sans", "fontWeight": "bold", "fontSize": 7.5, "align": "left", "baseline": "alphabetic", "color": "black"},
     "encoding": {"x": {"datum": 3.2, "type": "quantitative", "scale": {"domain": [0, 42], "nice": false, "zero": false, "padding": 0}, "axis": null},
                  "y": {"datum": 1.955, "type": "quantitative", "scale": {"domain": [0.02, 2.2], "nice": false, "zero": false, "padding": 0}, "axis": null}}},
    {"data": {"values": [{}]}, "mark": {"type": "text", "text": "0-20%", "font": "Liberation Sans", "fontWeight": "bold", "fontSize": 12.5, "align": "left", "baseline": "alphabetic", "color": "black"},
     "encoding": {"x": {"datum": 5.2, "type": "quantitative", "scale": {"domain": [0, 42], "nice": false, "zero": false, "padding": 0}, "axis": null},
                  "y": {"datum": 1.99, "type": "quantitative", "scale": {"domain": [0.02, 2.2], "nice": false, "zero": false, "padding": 0}, "axis": null}}},
    {"data": {"values": [{}]}, "mark": {"type": "text", "text": "p", "font": "Liberation Sans", "fontWeight": "bold", "fontSize": 13, "align": "left", "baseline": "alphabetic", "color": "black"},
     "encoding": {"x": {"datum": 32.55, "type": "quantitative", "scale": {"domain": [0, 42], "nice": false, "zero": false, "padding": 0}, "axis": null},
                  "y": {"datum": -0.268, "type": "quantitative", "scale": {"domain": [0.02, 2.2], "nice": false, "zero": false, "padding": 0}, "axis": null}}},
    {"data": {"values": [{}]}, "mark": {"type": "text", "text": "T", "font": "Liberation Sans", "fontWeight": "bold", "fontSize": 8, "align": "left", "baseline": "alphabetic", "color": "black"},
     "encoding": {"x": {"datum": 33.7, "type": "quantitative", "scale": {"domain": [0, 42], "nice": false, "zero": false, "padding": 0}, "axis": null},
                  "y": {"datum": -0.332, "type": "quantitative", "scale": {"domain": [0.02, 2.2], "nice": false, "zero": false, "padding": 0}, "axis": null}}},
    {"data": {"values": [{}]}, "mark": {"type": "text", "text": "(GeV/c)", "font": "Liberation Sans", "fontWeight": "bold", "fontSize": 12, "align": "right", "baseline": "alphabetic", "color": "black"},
     "encoding": {"x": {"datum": 42, "type": "quantitative", "scale": {"domain": [0, 42], "nice": false, "zero": false, "padding": 0}, "axis": null},
                  "y": {"datum": -0.268, "type": "quantitative", "scale": {"domain": [0.02, 2.2], "nice": false, "zero": false, "padding": 0}, "axis": null}}}
  ]
}
]
}
